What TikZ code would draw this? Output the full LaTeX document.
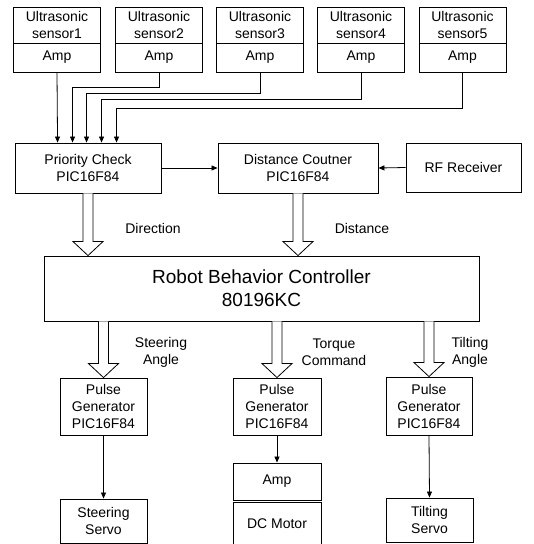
\documentclass[tikz,border=0pt]{standalone}
\usepackage{fontspec}
\setmainfont{Liberation Sans}
\usetikzlibrary{arrows.meta,calc}
\newcommand\mysz{\fontsize{14}{17}\selectfont}
\newcommand\bigsz{\fontsize{19}{23}\selectfont}
\newcommand\fatarrow[2]{\draw[fat] ($(#1)+(-5,0)$) -- ($(#2)+(-5,-14)$) -- ($(#2)+(-15,-14)$) -- (#2) -- ($(#2)+(15,-14)$) -- ($(#2)+(5,-14)$) -- ($(#1)+(5,0)$);}
\tikzset{
 box/.style={draw, line width=0.9pt, align=center, inner sep=0pt, font=\mysz},
 conn/.style={draw, line width=0.8pt, -{Triangle[width=5pt,length=6pt]}},
 fat/.style={draw, line width=0.8pt, fill=white, line join=miter},
 lbl/.style={align=center, font=\mysz, inner sep=0pt}
}
\begin{document}
\begin{tikzpicture}[x=1pt,y=-1pt]
\useasboundingbox (0,0) rectangle (534,544);
% sensors
\foreach \i/\x in {1/57,2/159,3/260,4/361,5/462.5}{
  \node[box, minimum width=87pt, minimum height=36pt] (s\i) at (\x,25) {Ultrasonic\\sensor\i};
  \node[box, minimum width=87pt, minimum height=29pt] (a\i) at (\x,57.5) {Amp};
}
% middle row
\node[box, minimum width=146pt, minimum height=50pt] (pc) at (88,168) {Priority Check\\PIC16F84};
\node[box, minimum width=160pt, minimum height=50pt] (dc) at (298,168) {Distance Coutner\\PIC16F84};
\node[box, minimum width=115pt, minimum height=49pt] (rf) at (463.5,167.5) {RF Receiver};
% controller
\node[box, font=\bigsz, minimum width=435pt, minimum height=65pt] (rb) at (261.5,288.5) {Robot Behavior Controller\\80196KC};
% pulse generators
\node[box, minimum width=87pt, minimum height=57pt] (p1) at (103.5,406.5) {Pulse\\Generator\\PIC16F84};
\node[box, minimum width=88pt, minimum height=57pt] (p2) at (277,406.5) {Pulse\\Generator\\PIC16F84};
\node[box, minimum width=86pt, minimum height=58pt] (p3) at (429,406) {Pulse\\Generator\\PIC16F84};
% outputs
\node[box, minimum width=87pt, minimum height=44pt] (ss) at (103.5,521) {Steering\\Servo};
\node[box, minimum width=88pt, minimum height=37pt] (am) at (277,481.5) {Amp};
\node[box, minimum width=88pt, minimum height=44pt] (dm) at (277,524) {DC Motor};
\node[box, minimum width=87pt, minimum height=44pt] (ts) at (429.5,520) {Tilting\\Servo};
% labels
\node[lbl] (l1) at (153,228) {Direction};
\node[lbl] (l2) at (362,228) {Distance};
\node[lbl] (l3) at (161,352) {Steering\\Angle};
\node[lbl] (l4) at (334,352) {Torque\\Command};
\node[lbl] (l5) at (470,352) {Tilting\\Angle};
% sensor connectors
\draw[conn] (a1.south) -- ($(pc.north west)+(43,0)$);
\draw[conn] (a2.south) -- ++(0,15) -| ($(pc.north west)+(58,0)$);
\draw[conn] (a3.south) -- ++(0,21) -| ($(pc.north west)+(72,0)$);
\draw[conn] (a4.south) -- ++(0,27) -| ($(pc.north west)+(87,0)$);
\draw[conn] (a5.south) -- ++(0,36) -| ($(pc.north west)+(102,0)$);
% middle arrows
\draw[conn] (pc.east) -- (dc.west);
\draw[conn] (rf.west) -- (dc.east);
% fat arrows
\coordinate (t1) at (pc.south |- rb.north);
\coordinate (t2) at (dc.south |- rb.north);
\coordinate (b1) at (rb.south -| p1.north);
\coordinate (b2) at (rb.south -| p2.north);
\coordinate (b3) at (rb.south -| p3.north);
\fatarrow{pc.south}{t1}
\fatarrow{dc.south}{t2}
\fatarrow{b1}{p1.north}
\fatarrow{b2}{p2.north}
\fatarrow{b3}{p3.north}
% lower arrows
\draw[conn] (p1.south) -- (ss.north);
\draw[conn] (p2.south) -- (am.north);
\draw[conn] (p3.south) -- (ts.north);
\end{tikzpicture}
\end{document}
